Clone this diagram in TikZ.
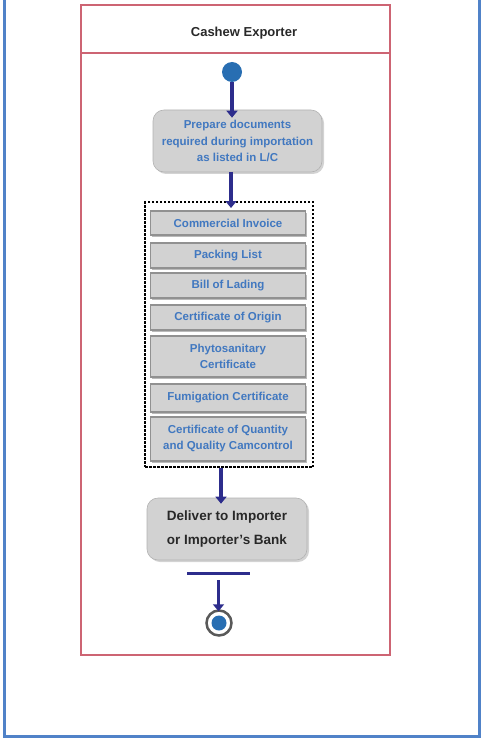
\documentclass[tikz,border=0pt]{standalone}
\usepackage{fontspec}
\setmainfont{Liberation Sans}
\usetikzlibrary{arrows.meta,shadows}
\definecolor{frameblue}{RGB}{80,130,200}
\definecolor{lanered}{RGB}{205,100,115}
\definecolor{navy}{RGB}{45,45,140}
\definecolor{dotblue}{RGB}{40,110,178}
\definecolor{docblue}{RGB}{65,120,192}
\definecolor{boxgray}{RGB}{210,210,210}
\definecolor{edgegray}{RGB}{145,145,145}
\definecolor{darktext}{RGB}{40,40,40}
\tikzset{
  arr/.style={navy, line width=3.5pt, -{Triangle[length=7pt,width=11pt]}},
  action/.style={fill=boxgray, draw=boxgray!85!black, line width=0.6pt, rounded corners=11pt,
    align=center, font=\fontsize{11.5}{16.5}\selectfont\bfseries, text=docblue,
    drop shadow={opacity=0.35, shadow xshift=2pt, shadow yshift=-2pt}},
  docbox/.style={fill=boxgray, draw=edgegray, line width=1.6pt, minimum width=155pt,
    align=center, font=\fontsize{11.5}{16}\selectfont\bfseries, text=docblue, inner sep=0pt,
    drop shadow={opacity=0.45, shadow xshift=1.5pt, shadow yshift=-1.5pt, fill=black!60}},
}
\begin{document}
\begin{tikzpicture}[x=1pt,y=-1pt]
\useasboundingbox (0,0) rectangle (483,738);
% outer frame
\draw[frameblue, line width=3pt] (4,0) -- (4,736) -- (479,736) -- (479,0);
% swimlane
\draw[lanered, line width=2.2pt] (81,5) rectangle (390,655);
\draw[lanered, line width=2.2pt] (81,53) -- (390,53);
\node[font=\fontsize{13}{15}\selectfont\bfseries, text=darktext] (lane) at (244,33) {Cashew Exporter};
% start node
\node[circle, fill=dotblue, minimum size=20pt, inner sep=0pt] (start) at (232,72) {};
% preparation step
\node[action, minimum width=169pt, minimum height=62pt] (prep) at (237.5,141)
  {Prepare documents\\required during importation\\as listed in L/C};
% document group
\node[draw=black, line width=2pt, dash pattern=on 2.5pt off 1.5pt, minimum width=168pt,
  minimum height=265pt, inner sep=0pt] (docs) at (229,334.5) {};
\node[docbox, minimum height=24pt] (ci) at (228,223) {Commercial Invoice};
\node[docbox, minimum height=25pt] (pl) at (228,255.5) {Packing List};
\node[docbox, minimum height=25pt] (bl) at (228,285.5) {Bill of Lading};
\node[docbox, minimum height=25pt] (co) at (228,317.5) {Certificate of Origin};
\node[docbox, minimum height=41pt] (pc) at (228,356.5) {Phytosanitary\\Certificate};
\node[docbox, minimum height=28pt] (fc) at (228,398) {Fumigation Certificate};
\node[docbox, minimum height=44pt] (qc) at (228,439) {Certificate of Quantity\\and Quality Camcontrol};
% delivery step
\node[action, minimum width=160pt, minimum height=62pt, text=darktext,
  font=\fontsize{13.5}{24}\selectfont\bfseries] (deliver) at (227,529)
  {Deliver to Importer\\or Importer's Bank};
% join bar
\draw[navy, line width=3pt] (187,573) -- node[coordinate, pos=0.5] (bar) {} (250,573);
% end node
\node[circle, draw=black!65, line width=2.5pt, fill=white, minimum size=25pt, inner sep=0pt] (stop) at (219,623) {};
\node[circle, fill=dotblue, minimum size=15pt, inner sep=0pt] (stopdot) at (stop) {};
% flow
\coordinate (p1) at (231,172);
\coordinate (d1) at (221,468);
\coordinate (b1) at (218.5,580);
\draw[arr] (start.south) -- ([yshift=-8pt]start |- prep.north);
\draw[arr] (p1) -- ([yshift=-7pt]p1 |- docs.north);
\draw[arr] (d1) -- ([yshift=-6pt]d1 |- deliver.north);
\draw[arr] (b1) -- ([yshift=-2pt]b1 |- stop.north);
\end{tikzpicture}
\end{document}
